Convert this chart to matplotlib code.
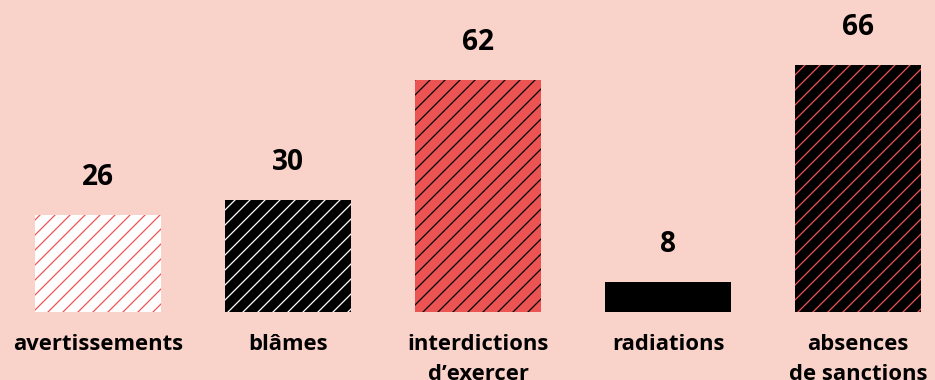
import matplotlib
matplotlib.use("Agg")
import matplotlib.pyplot as plt

# data
categories = ["avertissements", "blâmes", "interdictions\nd’exercer", "radiations", "absences\nde sanctions"]
values = [26, 30, 62, 8, 66]

# look of each bar: face colour, hatch colour, hatch
BG = "#F9D2C9"
RED = "#EC5453"
faces = ["white", "black", RED, "black", "black"]
hatch_cols = [RED, "white", "black", "black", RED]
hatches = ["//", "//", "//", "", "//"]

plt.rcParams["font.family"] = ["Open Sans", "DejaVu Sans"]
plt.rcParams["hatch.linewidth"] = 1.0

DPI = 90  # hatch spacing scales with dpi
fig = plt.figure(figsize=(935 / DPI, 380 / DPI), dpi=DPI, facecolor=BG)
ax = fig.add_axes([0, 68 / 380, 1, 262 / 380])
ax.set_facecolor(BG)

x = list(range(len(values)))
bars = ax.bar(x, values, width=0.66, color=faces, edgecolor=hatch_cols, linewidth=0)
for b, h in zip(bars, hatches):
    b.set_hatch(h)

ax.bar_label(bars, labels=[str(v) for v in values], padding=18.5, fontsize=22.4,
             fontweight="bold", color="black")

ax.set_xlim(-0.516, 4.405)
ax.set_ylim(0, 70)
ax.set_xticks(x)
ax.set_xticklabels(categories, fontsize=17.6, fontweight="bold", linespacing=1.5)
ax.tick_params(axis="x", length=0, pad=18)
ax.set_yticks([])
for s in ax.spines.values():
    s.set_visible(False)

fig.savefig("out.png", dpi=DPI, facecolor=BG)
